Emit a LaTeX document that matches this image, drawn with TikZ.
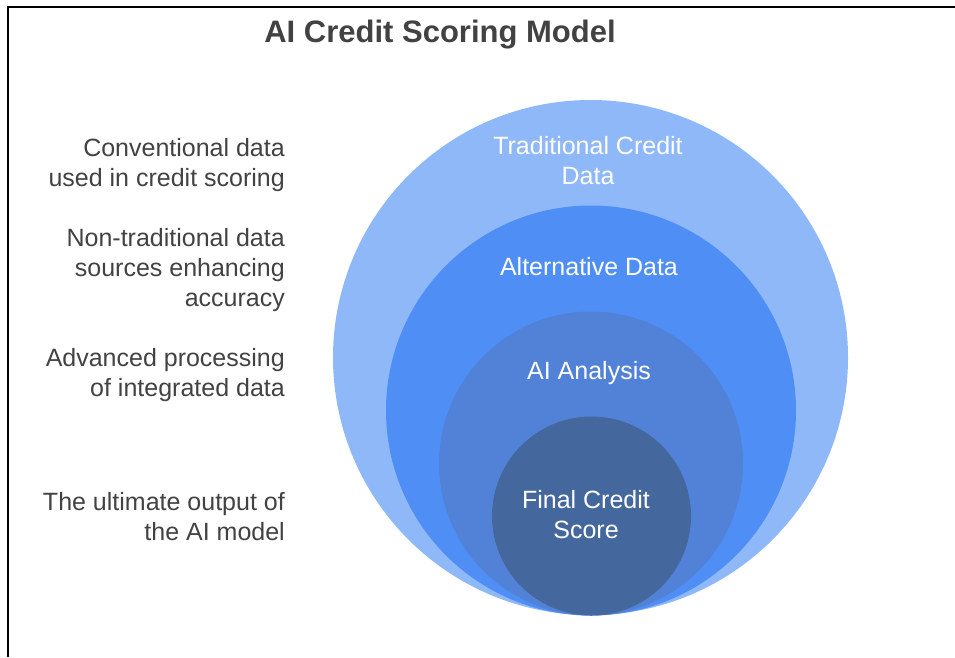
\documentclass[tikz,border=0pt]{standalone}
\usepackage{fontspec}
\setmainfont{Liberation Sans}
\usetikzlibrary{positioning}

\definecolor{tradblue}{HTML}{8FB8F8}
\definecolor{altblue}{HTML}{4F8FF5}
\definecolor{aiblue}{HTML}{5282D8}
\definecolor{scoreblue}{HTML}{44679E}
\definecolor{notegray}{HTML}{424242}

\tikzset{
  ring/.style={circle, inner sep=0pt, outer sep=0pt, draw=none},
  ringlabel/.style={text=white, align=center, inner sep=0pt,
    font=\fontsize{25}{30}\selectfont},
  note/.style={text=notegray, align=right, anchor=east, inner sep=0pt,
    font=\fontsize{25}{30}\selectfont},
}

\begin{document}
\begin{tikzpicture}[x=1pt,y=-1pt]
\useasboundingbox (0,0) rectangle (955,657);
\draw[line width=2pt] (8,657) -- (8,7) -- (955,7);
\node[text=notegray, font=\bfseries\fontsize{31}{36}\selectfont, inner sep=0pt] (title) at (440,35) {AI Credit Scoring Model};
% nested circles, all touching at the bottom
\node[ring, fill=tradblue, minimum size=515pt] (tradring) at (590.5,357.5) {};
\node[ring, fill=altblue, minimum size=410pt] (altring) at (591,410.5) {};
\node[ring, fill=aiblue, minimum size=304pt] (airing) at (591,463.5) {};
\node[ring, fill=scoreblue, minimum size=199pt] (scorering) at (591.5,516) {};
\node[ringlabel] (tradlbl) at (588,161) {Traditional Credit\\Data};
\node[ringlabel] (altlbl) at (589,267) {Alternative Data};
\node[ringlabel] (ailbl) at (589,373) {AI Analysis};
\node[ringlabel] (scorelbl) at (586,515) {Final Credit\\Score};
% descriptions on the left
\node[note] (tradnote) at (285,165) {Conventional data\\used in credit scoring};
\node[note] (altnote) at (285,270) {Non-traditional data\\sources enhancing\\accuracy};
\node[note] (ainote) at (285,375) {Advanced processing\\of integrated data};
\node[note] (scorenote) at (285,517) {The ultimate output of\\the AI model};
\end{tikzpicture}
\end{document}
